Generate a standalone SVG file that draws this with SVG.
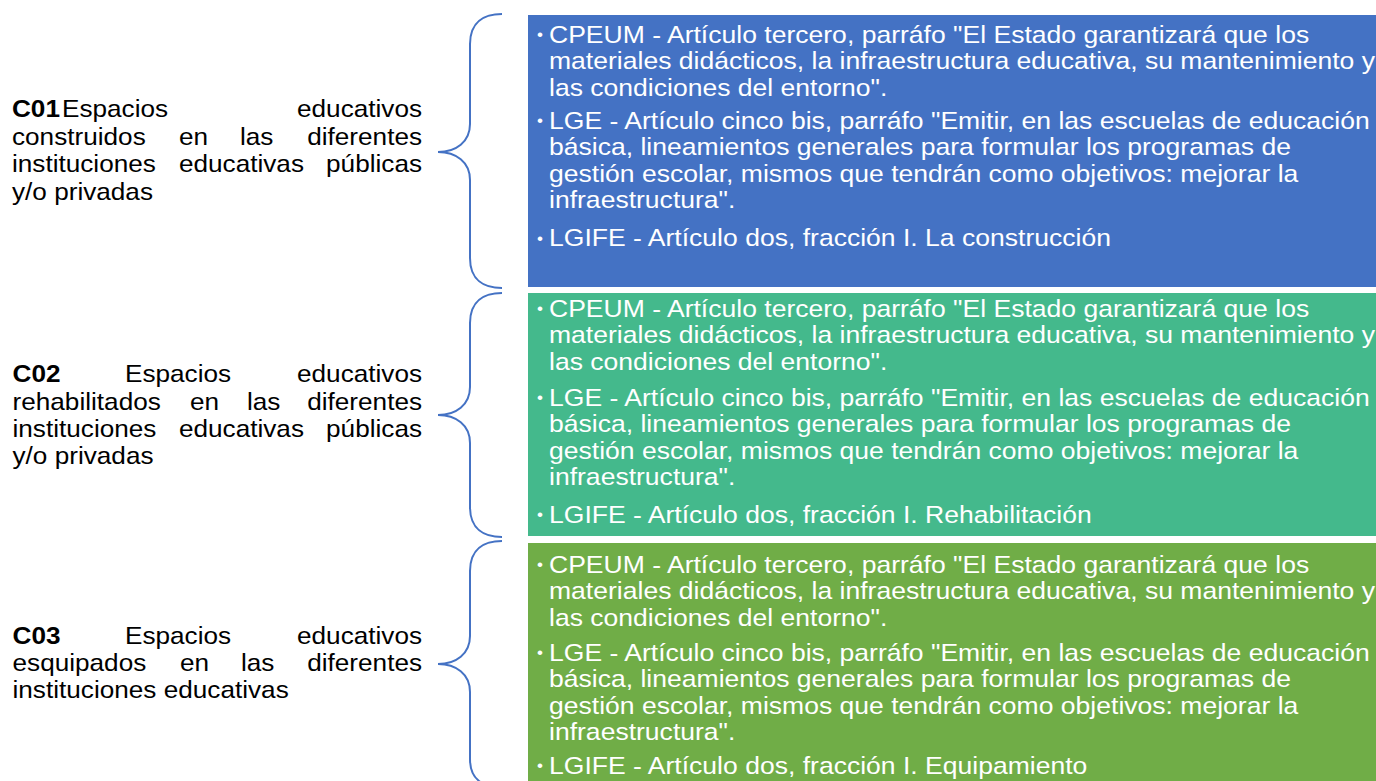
<svg xmlns="http://www.w3.org/2000/svg" width="1376" height="781" viewBox="0 0 1376 781">
<style>
.lt{font-family:"Liberation Sans",Arial,sans-serif;font-size:24px;fill:#000}
.b{font-weight:bold}
.rt{font-family:"Liberation Sans",Arial,sans-serif;font-size:24px;fill:#fff}
.bu{font-family:"Liberation Sans",Arial,sans-serif;font-size:17px;fill:#fff;text-anchor:middle}
.e{text-anchor:end}
.brace{fill:none;stroke:#4472C4;stroke-width:2}
</style>
<rect width="1376" height="781" fill="#fff"/>
<g id="connectors">
<path class="brace" d="M502,14 C484,14 470,22 470,44 L470,124 C470,142 456,152 438,152 C456,152 470,162 470,180 L470,258 C470,280 484,288 502,288"/>
<path class="brace" d="M502,293 C484,293 470,301 470,323 L470,387 C470,405 456,415 438,415 C456,415 470,425 470,443 L470,507 C470,529 484,537 502,537"/>
<path class="brace" d="M502,541 C484,541 470,549 470,571 L470,636 C470,654 456,664 438,664 C456,664 470,674 470,692 L470,759 C470,781 484,787 502,787"/>
</g>
<g id="c01">
<g transform="scale(1.09,1)">
<text class="lt" y="117"><tspan x="11" class="b">C01</tspan><tspan x="56.9">Espacios</tspan></text>
<text class="lt e" x="387.2" y="117">educativos</text>
<text class="lt" y="145"><tspan x="11">construidos</tspan><tspan x="164.2">en</tspan><tspan x="220.2">las</tspan></text>
<text class="lt e" x="387.2" y="145">diferentes</text>
<text class="lt" y="172"><tspan x="11">instituciones</tspan><tspan x="164.2">educativas</tspan></text>
<text class="lt e" x="387.2" y="172">públicas</text>
<text class="lt" x="11" y="200">y/o privadas</text>
</g>
</g>
<g id="c02">
<g transform="scale(1.09,1)">
<text class="lt" y="382"><tspan x="11.5" class="b">C02</tspan><tspan x="114.7">Espacios</tspan></text>
<text class="lt e" x="387.2" y="382">educativos</text>
<text class="lt" y="410"><tspan x="11.5">rehabilitados</tspan><tspan x="174.3">en</tspan><tspan x="226.6">las</tspan></text>
<text class="lt e" x="387.2" y="410">diferentes</text>
<text class="lt" y="437"><tspan x="11.5">instituciones</tspan><tspan x="164.2">educativas</tspan></text>
<text class="lt e" x="387.2" y="437">públicas</text>
<text class="lt" x="11.5" y="464">y/o privadas</text>
</g>
</g>
<g id="c03">
<g transform="scale(1.09,1)">
<text class="lt" y="644"><tspan x="11.5" class="b">C03</tspan><tspan x="114.7">Espacios</tspan></text>
<text class="lt e" x="387.2" y="644">educativos</text>
<text class="lt" y="671"><tspan x="11.5">esquipados</tspan><tspan x="165.1">en</tspan><tspan x="221.1">las</tspan></text>
<text class="lt e" x="387.2" y="671">diferentes</text>
<text class="lt" x="11.5" y="698">instituciones educativas</text>
</g>
</g>
<g id="box1">
<rect x="528" y="15" width="860" height="272" fill="#4472C4"/>
<text class="bu" x="540" y="40">•</text>
<text class="bu" x="540" y="126">•</text>
<text class="bu" x="540" y="244">•</text>
<g transform="scale(1.106,1)">
<text class="rt" x="496.4" y="43">CPEUM - Artículo tercero, parráfo "El Estado garantizará que los</text>
<text class="rt" x="496.4" y="69.5">materiales didácticos, la infraestructura educativa, su mantenimiento y</text>
<text class="rt" x="496.4" y="96">las condiciones del entorno".</text>
<text class="rt" x="496.4" y="129">LGE - Artículo cinco bis, parráfo "Emitir, en las escuelas de educación</text>
<text class="rt" x="496.4" y="155.5">básica, lineamientos generales para formular los programas de</text>
<text class="rt" x="496.4" y="182">gestión escolar, mismos que tendrán como objetivos: mejorar la</text>
<text class="rt" x="496.4" y="208.5">infraestructura".</text>
<text class="rt" x="496.4" y="246">LGIFE - Artículo dos, fracción I. La construcción</text>
</g>
</g>
<g id="box2">
<rect x="528" y="293" width="860" height="243" fill="#44B98C"/>
<text class="bu" x="540" y="314">•</text>
<text class="bu" x="540" y="403">•</text>
<text class="bu" x="540" y="520">•</text>
<g transform="scale(1.106,1)">
<text class="rt" x="496.4" y="317">CPEUM - Artículo tercero, parráfo "El Estado garantizará que los</text>
<text class="rt" x="496.4" y="343.5">materiales didácticos, la infraestructura educativa, su mantenimiento y</text>
<text class="rt" x="496.4" y="370">las condiciones del entorno".</text>
<text class="rt" x="496.4" y="406">LGE - Artículo cinco bis, parráfo "Emitir, en las escuelas de educación</text>
<text class="rt" x="496.4" y="432.5">básica, lineamientos generales para formular los programas de</text>
<text class="rt" x="496.4" y="459">gestión escolar, mismos que tendrán como objetivos: mejorar la</text>
<text class="rt" x="496.4" y="485.5">infraestructura".</text>
<text class="rt" x="496.4" y="523">LGIFE - Artículo dos, fracción I. Rehabilitación</text>
</g>
</g>
<g id="box3">
<rect x="528" y="543" width="860" height="250" fill="#70AD47"/>
<text class="bu" x="540" y="570">•</text>
<text class="bu" x="540" y="658">•</text>
<text class="bu" x="540" y="771">•</text>
<g transform="scale(1.106,1)">
<text class="rt" x="496.4" y="573">CPEUM - Artículo tercero, parráfo "El Estado garantizará que los</text>
<text class="rt" x="496.4" y="599.5">materiales didácticos, la infraestructura educativa, su mantenimiento y</text>
<text class="rt" x="496.4" y="626">las condiciones del entorno".</text>
<text class="rt" x="496.4" y="661">LGE - Artículo cinco bis, parráfo "Emitir, en las escuelas de educación</text>
<text class="rt" x="496.4" y="687.5">básica, lineamientos generales para formular los programas de</text>
<text class="rt" x="496.4" y="714">gestión escolar, mismos que tendrán como objetivos: mejorar la</text>
<text class="rt" x="496.4" y="740.5">infraestructura".</text>
<text class="rt" x="496.4" y="774">LGIFE - Artículo dos, fracción I. Equipamiento</text>
</g>
</g>
</svg>
